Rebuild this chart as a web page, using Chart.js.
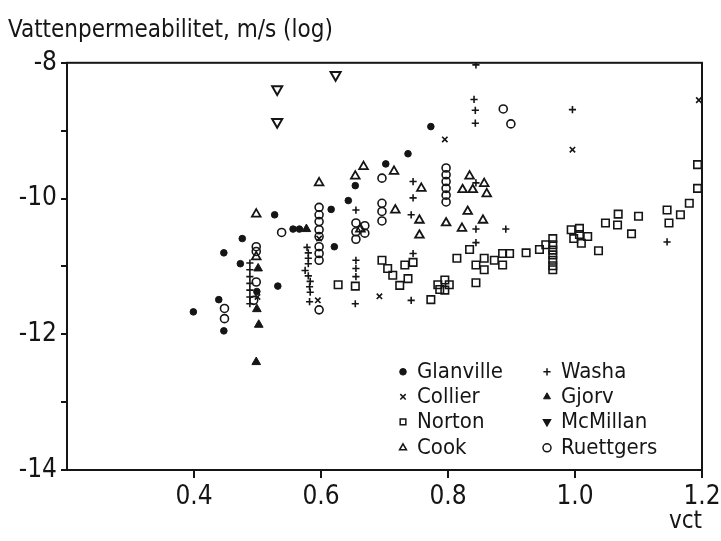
<!DOCTYPE html>
<html>
<head>
<meta charset="utf-8">
<script src="https://cdn.jsdelivr.net/npm/chart.js@4/dist/chart.umd.min.js"></script>
<style>
html, body { margin: 0; padding: 0; background: #fff; }
</style>
</head>
<body>
<canvas id="chart" width="721" height="541"></canvas>
<script>
const FONT = "'DejaVu Sans Condensed', 'Liberation Sans Narrow', 'DejaVu Sans', sans-serif";
const INK = "#151515";

// axis ticks
const xTicks = [0.4, 0.6, 0.8, 1.0, 1.2];
const yLabels = [-8, -10, -12, -14];

// series, [vct, log permeability]
const glanville = [[0.399,-11.67],[0.439,-11.49],[0.447,-10.80],[0.447,-11.95],[0.473,-10.96],[0.476,-10.59],
  [0.527,-10.24],[0.532,-11.29],[0.556,-10.45],[0.566,-10.45],[0.616,-10.16],[0.621,-10.71],[0.643,-10.03],
  [0.654,-9.81],[0.702,-9.49],[0.737,-9.34],[0.773,-8.94],[0.499,-11.37]];
const collier = [[0.5,-11.45],[0.595,-11.50],[0.597,-10.59],[0.692,-11.44],[0.795,-9.13],[0.996,-9.28],[1.195,-8.55]];
const norton = [[0.627,-11.27],[0.654,-11.29],
  [0.696,-10.91],[0.705,-11.03],[0.713,-11.13],[0.724,-11.28],[0.737,-11.18],[0.732,-10.98],[0.745,-10.94],
  [0.773,-11.49],[0.784,-11.27],[0.795,-11.20],[0.802,-11.27],[0.795,-11.35],[0.787,-11.34],
  [0.814,-10.88],[0.834,-10.75],[0.844,-10.98],[0.857,-11.05],[0.857,-10.88],[0.844,-11.24],
  [0.873,-10.91],[0.886,-10.81],[0.886,-10.98],[0.897,-10.81],[0.923,-10.80],[0.944,-10.75],[0.954,-10.68],
  [0.965,-10.59],[0.965,-10.68],[0.965,-10.76],[0.965,-10.83],[0.965,-10.91],[0.965,-10.99],[0.965,-11.05],
  [0.994,-10.46],[1.007,-10.44],[0.998,-10.59],[1.010,-10.66],[1.020,-10.56],[1.007,-10.53],
  [1.037,-10.77],[1.048,-10.36],[1.067,-10.39],[1.068,-10.23],[1.089,-10.52],[1.100,-10.26],
  [1.145,-10.17],[1.148,-10.36],[1.166,-10.24],[1.180,-10.07],[1.193,-9.50],[1.193,-9.85]];
const cook = [[0.498,-10.23],[0.498,-10.86],[0.597,-9.77],[0.654,-9.67],[0.667,-9.53],[0.662,-10.45],[0.715,-9.60],
  [0.717,-10.17],[0.755,-10.32],[0.755,-10.54],[0.758,-9.85],[0.797,-10.36],[0.822,-10.44],[0.831,-10.19],
  [0.855,-10.32],[0.834,-9.67],[0.823,-9.87],[0.839,-9.87],[0.857,-9.78],[0.861,-9.93]];
const washa = [[0.488,-10.95],[0.488,-11.05],[0.488,-11.15],[0.488,-11.25],[0.488,-11.35],[0.488,-11.45],[0.488,-11.55],
  [0.578,-10.72],[0.580,-10.80],[0.580,-10.88],[0.580,-10.96],[0.575,-11.06],[0.580,-11.14],[0.583,-11.22],
  [0.582,-11.30],[0.583,-11.38],[0.582,-11.52],
  [0.655,-10.17],[0.655,-10.91],[0.655,-11.03],[0.655,-11.15],[0.654,-11.55],
  [0.745,-9.75],[0.745,-9.99],[0.742,-10.24],[0.745,-10.81],[0.742,-11.50],
  [0.844,-8.03],[0.841,-8.54],[0.843,-8.70],[0.843,-8.89],[0.844,-9.77],[0.844,-10.45],[0.844,-10.65],
  [0.891,-10.45],[0.996,-8.69],[1.145,-10.64]];
const gjorv = [[0.501,-11.03],[0.499,-11.63],[0.502,-11.86],[0.498,-12.41],[0.577,-10.45]];
const mcmillan = [[0.531,-8.39],[0.531,-8.87],[0.623,-8.18]];
const ruettgers = [[0.448,-11.62],[0.448,-11.77],[0.887,-8.68],[0.899,-8.90],
  [0.498,-10.71],[0.498,-10.78],[0.498,-11.23],[0.494,-11.50],[0.538,-10.50],
  [0.597,-10.13],[0.597,-10.24],[0.597,-10.34],[0.597,-10.46],[0.597,-10.56],[0.597,-10.71],[0.597,-10.81],
  [0.597,-10.91],[0.597,-11.64],
  [0.655,-10.36],[0.655,-10.49],[0.655,-10.60],[0.669,-10.40],[0.669,-10.51],
  [0.696,-9.70],[0.696,-10.07],[0.696,-10.19],[0.696,-10.33],
  [0.797,-9.55],[0.797,-9.65],[0.797,-9.75],[0.797,-9.85],[0.797,-9.95],[0.797,-10.05]];

function pts(arr) { return arr.map(p => ({x: p[0], y: p[1]})); }

function series(label, data, style, radius, filled, width, rotation) {
  return {
    label: label,
    data: pts(data),
    pointStyle: style,
    pointRadius: radius,
    pointHoverRadius: radius,
    pointRotation: rotation || 0,
    pointBorderWidth: width,
    borderColor: INK,
    pointBorderColor: INK,
    pointBackgroundColor: filled ? INK : "rgba(0,0,0,0)",
    showLine: false
  };
}

const datasets = [
  series("Glanville", glanville, "circle", 3.3, true, 1),
  series("Collier", collier, "crossRot", 3.8, false, 1.6),
  series("Norton", norton, "rect", 5.3, false, 1.6),
  series("Cook", cook, "triangle", 5, false, 1.8),
  series("Washa", washa, "cross", 3.6, false, 1.6),
  series("Gjorv", gjorv, "triangle", 5, true, 1),
  series("McMillan", mcmillan, "triangle", 5.8, false, 2, 180),
  series("Ruettgers", ruettgers, "circle", 4, false, 1.6)
];

// box round the plot area
const frame = {
  id: "frame",
  afterDatasetsDraw(chart) {
    const a = chart.chartArea, ctx = chart.ctx;
    ctx.save();
    ctx.strokeStyle = INK;
    ctx.lineWidth = 2;
    ctx.strokeRect(a.left, a.top, a.right - a.left, a.bottom - a.top);
    ctx.restore();
  }
};

// two-column legend inside the plot, bottom right
const legendBox = {
  id: "legendBox",
  afterDraw(chart) {
    const a = chart.chartArea, ctx = chart.ctx;
    const cols = [a.left + 336, a.left + 480];
    const rows = [a.top + 309, a.top + 334, a.top + 359, a.top + 385];
    ctx.save();
    ctx.font = "22px " + FONT;
    ctx.textBaseline = "middle";
    ctx.textAlign = "left";
    chart.data.datasets.forEach((ds, i) => {
      const x = cols[Math.floor(i / 4)], y = rows[i % 4];
      const solid = ds.pointStyle === "triangle" && ds.pointRotation === 180;
      ctx.fillStyle = solid ? INK : ds.pointBackgroundColor;
      ctx.strokeStyle = INK;
      ctx.lineWidth = Math.min(ds.pointBorderWidth, 1.5);
      Chart.helpers.drawPoint(ctx, {
        pointStyle: ds.pointStyle,
        rotation: ds.pointRotation,
        radius: Math.min(ds.pointRadius, 4),
        borderWidth: ctx.lineWidth
      }, x, y);
      ctx.fillStyle = INK;
      ctx.fillText(ds.label, x + 14, y);
    });
    ctx.restore();
  }
};

new Chart(document.getElementById("chart"), {
  type: "scatter",
  data: { datasets: datasets },
  options: {
    responsive: false,
    devicePixelRatio: 1,
    animation: false,
    layout: { padding: { left: 8, right: 19, top: 0, bottom: 0 } },
    plugins: {
      legend: { display: false },
      tooltip: { enabled: false },
      title: {
        display: true,
        text: "Vattenpermeabilitet, m/s (log)",
        align: "start",
        color: INK,
        font: { family: FONT, size: 24, weight: "normal" },
        padding: { top: 16, bottom: 18 }
      }
    },
    scales: {
      x: {
        type: "linear",
        min: 0.2,
        max: 1.2,
        afterBuildTicks: s => { s.ticks = xTicks.map(v => ({ value: v })); },
        afterFit: s => { s.height = 71; s.paddingRight = 0; },
        ticks: {
          color: INK,
          padding: 4,
          maxRotation: 0,
          font: { family: FONT, size: 26 },
          callback: v => Number(v).toFixed(1)
        },
        grid: { drawOnChartArea: false, drawTicks: true, tickLength: 8, color: INK, lineWidth: 2 },
        border: { display: true, color: INK, width: 2 },
        title: {
          display: true,
          text: "vct",
          align: "end",
          color: INK,
          font: { family: FONT, size: 24 },
          padding: { top: 0, bottom: 5 }
        }
      },
      y: {
        type: "linear",
        min: -14,
        max: -8,
        afterFit: s => { s.width = 59; },
        ticks: {
          stepSize: 1,
          color: INK,
          padding: 4,
          font: { family: FONT, size: 26 },
          callback: v => yLabels.includes(v) ? String(v) : ""
        },
        grid: { drawOnChartArea: false, drawTicks: true, tickLength: 6, color: INK, lineWidth: 2 },
        border: { display: true, color: INK, width: 2 }
      }
    }
  },
  plugins: [frame, legendBox]
});
</script>
</body>
</html>
